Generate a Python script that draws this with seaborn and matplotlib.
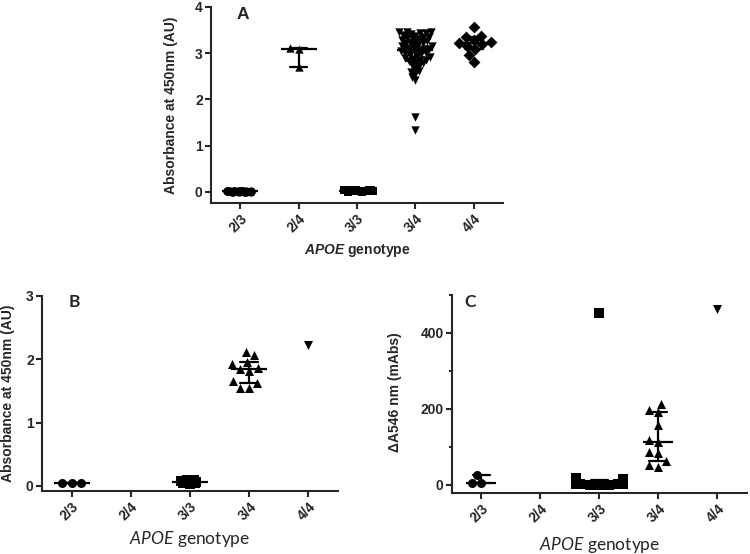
import numpy as np
import pandas as pd
import matplotlib
matplotlib.use("Agg")
import matplotlib.pyplot as plt
import seaborn as sns
from matplotlib.ticker import MultipleLocator
from matplotlib.markers import MarkerStyle
from matplotlib.transforms import Affine2D

categories = ["2/3", "2/4", "3/3", "3/4", "4/4"]

# ---- Panel A values (absorbance at 450 nm) ----
a_23 = [0.01, 0.00, 0.02, 0.01, 0.00, 0.01, 0.02, 0.00, 0.01, 0.00,
        0.01, 0.02, 0.00, 0.01, 0.00, 0.01, 0.02, 0.01, 0.00, 0.01,
        0.02, 0.01]
a_24 = [3.12, 3.09, 2.70]
a_33 = [0.02, 0.04, 0.01, 0.03, 0.05, 0.00, 0.02, 0.04, 0.03, 0.01,
        0.05, 0.02, 0.03, 0.04, 0.00, 0.02, 0.03, 0.05, 0.01, 0.04,
        0.02, 0.03, 0.01, 0.04, 0.03, 0.02]
a_34 = [3.47, 3.46, 3.45, 3.44, 3.43, 3.42, 3.40, 3.38, 3.36, 3.35,
        3.33, 3.32, 3.30, 3.28, 3.27, 3.25, 3.23, 3.22, 3.20, 3.18,
        3.16, 3.15, 3.13, 3.12, 3.10, 3.09, 3.08, 3.06, 3.05, 3.03,
        3.01, 3.00, 2.98, 2.96, 2.94, 2.92, 2.90, 2.88, 2.86, 2.85,
        2.83, 2.80, 2.78, 2.75, 2.72, 2.68, 2.62, 2.60, 2.55, 2.48,
        2.42, 1.62, 1.35]
a_44 = [3.57, 3.38, 3.36, 3.28, 3.25, 3.22, 3.20, 3.15, 3.10, 2.97, 2.82]

# ---- Panel B values (absorbance at 450 nm) ----
b_23 = [0.05, 0.05, 0.05]
b_24 = []
b_33 = [0.04, 0.06, 0.05, 0.08, 0.03, 0.07, 0.05, 0.10, 0.04, 0.06,
        0.09, 0.05, 0.07, 0.04, 0.06, 0.05]
b_34 = [2.12, 2.06, 1.96, 1.92, 1.86, 1.84, 1.82, 1.65, 1.63, 1.55, 1.54]
b_44 = [2.22]

# ---- Panel C values (dA546 nm, mAbs) ----
c_23 = [25, 4, 5]
c_24 = []
c_33 = [2, 8, 5, 12, 0, 15, 3, 10, 6, 18, 1, 9, 4, 14, 7, 2, 11, 5, 16,
        3, 8, 0, 13, 6, 453]
c_34 = [214, 198, 191, 157, 117, 114, 88, 85, 62, 53, 48]
c_44 = [462]

markers_a = ["o", "^", "s", "v", "D"]
markers_bc = ["o", "^", "s", "^", "v"]

sns.set_style("ticks")
plt.rcParams["font.family"] = ["Liberation Sans", "DejaVu Sans"]
plt.rcParams["mathtext.fontset"] = "custom"
plt.rcParams["mathtext.it"] = "Lato:italic"
plt.rcParams["mathtext.bfit"] = "Liberation Sans:italic:bold"
plt.rcParams["mathtext.rm"] = "Liberation Sans"
np.random.seed(3)


def iqr(x):
    return (np.percentile(x, 25, method="weibull"),
            np.percentile(x, 75, method="weibull"))


def make_df(groups):
    rows = []
    for cat, vals in zip(categories, groups):
        for v in vals:
            rows.append((cat, v))
    return pd.DataFrame(rows, columns=["genotype", "value"])


def draw_panel(ax, groups, markers, msize, med_ms, modes):
    df = make_df(groups)
    for cat, m, mode in zip(categories, markers, modes):
        sub = df[df["genotype"] == cat]
        if len(sub) == 0:
            continue
        if mode[0] == "strip":
            sns.stripplot(data=sub, x="genotype", y="value", order=categories,
                          marker=m, color="black", size=msize, linewidth=0,
                          jitter=mode[1], ax=ax, zorder=3)
        elif mode[0] == "tight":
            # swarm layout computed with small markers, drawn larger (overlap)
            big = MarkerStyle(m, transform=Affine2D().scale(mode[1]))
            sns.swarmplot(data=sub, x="genotype", y="value", order=categories,
                          marker=big, color="black", size=msize / mode[1],
                          linewidth=0, warn_thresh=1.0, ax=ax, zorder=3)
        else:
            sns.swarmplot(data=sub, x="genotype", y="value", order=categories,
                          marker=m, color="black", size=msize, linewidth=0,
                          warn_thresh=1.0, ax=ax, zorder=3)
    counts = df["genotype"].value_counts()
    multi = df[df["genotype"].map(counts) > 1]
    sns.pointplot(data=multi, x="genotype", y="value", order=categories,
                  estimator=np.median, errorbar=iqr, capsize=0.3,
                  color="black", marker="_", markersize=med_ms,
                  markeredgewidth=1.6, linestyle="none",
                  err_kws={"linewidth": 1.6}, ax=ax, zorder=5)
    ax.set_xlim(-0.5, 4.5)
    sns.despine(ax=ax)
    for s in ["left", "bottom"]:
        ax.spines[s].set_linewidth(1.5)
    ax.tick_params(axis="both", width=1.5, length=4, pad=2)
    ax.tick_params(axis="y", which="minor", width=1.5, length=2.5)
    ax.set_xticks(range(len(categories)))
    ax.set_xticklabels(categories, rotation=45, ha="right",
                       rotation_mode="anchor", fontweight="bold", fontsize=10)
    ax.set_xlabel("")


fig = plt.figure(figsize=(7.5, 5.54), dpi=100)
axA = fig.add_axes([211 / 750, 1 - 203 / 554, 292 / 750, 196 / 554])
axB = fig.add_axes([42 / 750, 1 - 491 / 554, 296 / 750, 195.3 / 554])
axC = fig.add_axes([452 / 750, 1 - 493.3 / 554, 294.7 / 750, 198.3 / 554])

# Panel A
draw_panel(axA, [a_23, a_24, a_33, a_34, a_44], markers_a, 6, 26,
           [("strip", 0.24), ("swarm",), ("strip", 0.28), ("tight", 1.8),
            ("swarm",)])
axA.set_ylim(-0.24, 4)
axA.set_yticks([0, 1, 2, 3, 4])
axA.set_yticklabels(["0", "1", "2", "3", "4"], fontweight="bold", fontsize=10)
axA.set_ylabel("Absorbance at 450nm (AU)", fontsize=10, fontweight="bold")
axA.yaxis.set_label_coords(-0.113, 0.5)
axA.set_xlabel(r"$\mathbfit{APOE}$ genotype", fontsize=10, fontweight="bold")
axA.xaxis.set_label_coords(0.5, -0.199)
axA.text(0.11, 0.96, "A", transform=axA.transAxes, fontsize=12.5,
         fontweight="bold", ha="center", va="center")

# Panel B
draw_panel(axB, [b_23, b_24, b_33, b_34, b_44], markers_bc, 6.5, 26,
           [("swarm",), ("swarm",), ("strip", 0.19), ("swarm",), ("swarm",)])
axB.set_ylim(-0.08, 3)
axB.set_yticks([0, 1, 2, 3])
axB.set_yticklabels(["0", "1", "2", "3"], fontweight="bold", fontsize=10)
axB.set_ylabel("Absorbance at 450nm (AU)", fontsize=10, fontweight="bold")
axB.yaxis.set_label_coords(-0.09, 0.5)
axB.set_xlabel(r"$\mathit{APOE}$ genotype", fontsize=12.5, family="Lato")
axB.xaxis.set_label_coords(0.5, -0.195)
axB.text(0.108, 0.968, "B", transform=axB.transAxes, fontsize=12.5,
         fontweight="bold", family="Lato", ha="center", va="center")

# Panel C
draw_panel(axC, [c_23, c_24, c_33, c_34, c_44], markers_bc, 6.5, 22,
           [("swarm",), ("swarm",), ("swarm",), ("swarm",), ("swarm",)])
axC.set_ylim(-22, 500)
axC.set_yticks([0, 200, 400])
axC.set_yticklabels(["0", "200", "400"], fontweight="bold", fontsize=10)
axC.yaxis.set_minor_locator(MultipleLocator(100))
axC.set_ylabel("ΔA546 nm (mAbs)", fontsize=10, fontweight="bold")
axC.yaxis.set_label_coords(-0.171, 0.508)
axC.set_xlabel(r"$\mathit{APOE}$ genotype", fontsize=12.5, family="Lato")
axC.xaxis.set_label_coords(0.5, -0.21)
axC.text(0.061, 0.966, "C", transform=axC.transAxes, fontsize=12.5,
         fontweight="bold", family="Lato", ha="center", va="center")

fig.savefig("out.png", dpi=100)
